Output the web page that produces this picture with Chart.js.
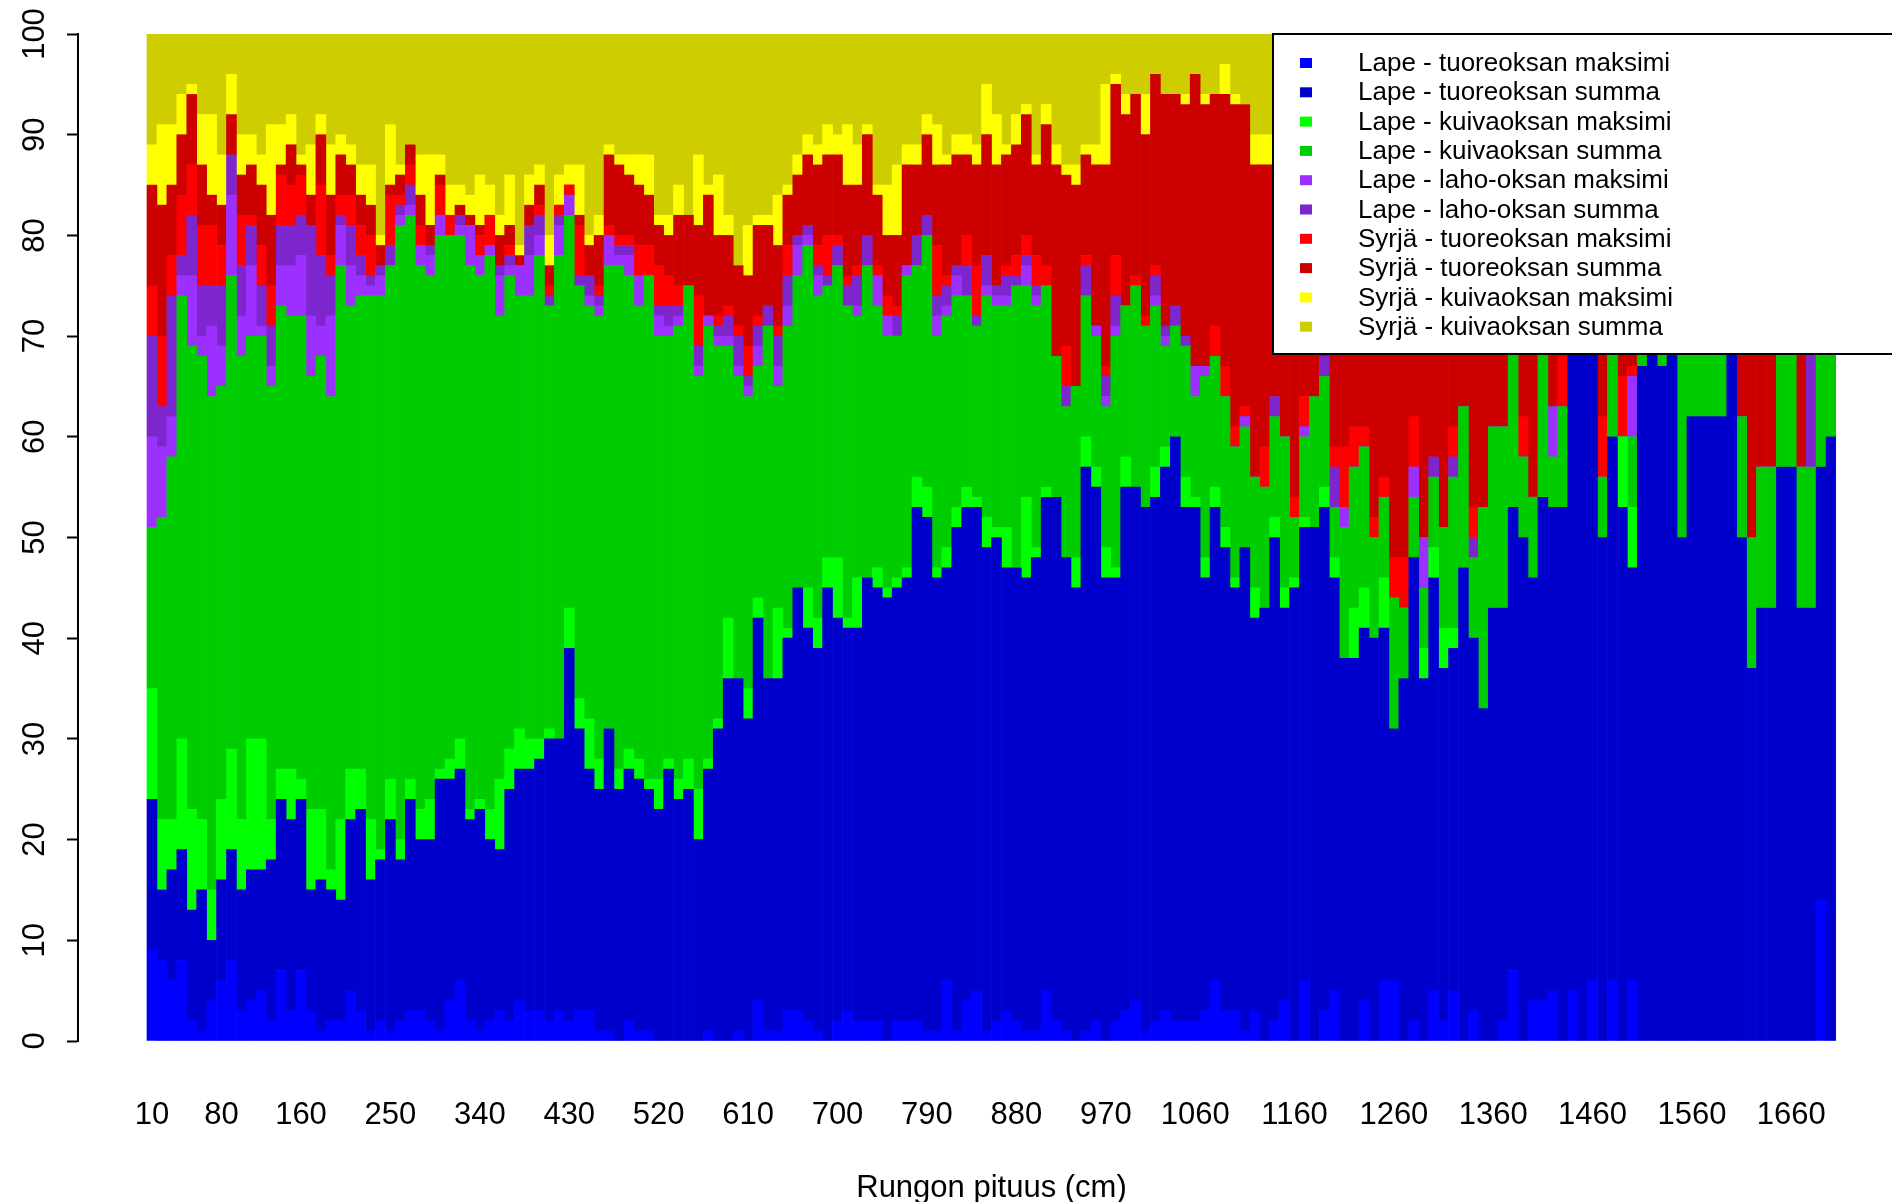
<!DOCTYPE html>
<html><head><meta charset="utf-8">
<script src="https://cdn.jsdelivr.net/npm/chart.js@4/dist/chart.umd.min.js"></script>
<style>html,body{margin:0;padding:0;background:#fff;}canvas{display:block;}</style>
</head><body>
<canvas id="c" width="1892" height="1202"></canvas>
<script>
// Categories: stem height classes (cm)
const heights = [
 10,20,30,40,50,60,70,80,90,100,110,120,130,140,150,160,170,180,190,200,
 210,220,230,240,250,260,270,280,290,300,310,320,330,340,350,360,370,380,390,400,
 410,420,430,440,450,460,470,480,490,500,510,520,530,540,550,560,570,580,590,600,
 610,620,630,640,650,660,670,680,690,700,710,720,730,740,750,760,770,780,790,800,
 810,820,830,840,850,860,870,880,890,900,910,920,930,940,950,960,970,980,990,1000,
 1010,1020,1030,1040,1050,1060,1070,1080,1090,1100,1110,1120,1130,1140,1150,1160,1170,1180,1190,1200,
 1210,1220,1230,1240,1250,1260,1270,1280,1290,1300,1310,1320,1330,1340,1350,1360,1370,1380,1390,1400,
 1410,1420,1430,1440,1450,1460,1470,1480,1490,1500,1510,1520,1530,1540,1550,1560,1570,1580,1590,1600,
 1610,1620,1630,1640,1650,1660,1670,1680,1690,1700];
const xTickLabels = [10,80,160,250,340,430,520,610,700,790,880,970,1060,1160,1260,1360,1460,1560,1660];
const xTitle = 'Rungon pituus (cm)';

const seriesNames = [
 'Lape - tuoreoksan maksimi','Lape - tuoreoksan summa',
 'Lape - kuivaoksan maksimi','Lape - kuivaoksan summa',
 'Lape - laho-oksan maksimi','Lape - laho-oksan summa',
 'Syrjä - tuoreoksan maksimi','Syrjä - tuoreoksan summa',
 'Syrjä - kuivaoksan maksimi','Syrjä - kuivaoksan summa'];
const seriesColors = ['#0000FF','#0000CD','#00FF00','#00CD00','#9B30FF','#7D26CD','#FF0000','#CD0000','#FFFF00','#CDCD00'];

const lapeTuoreMaks = [
 9,8,6,8,2,1,4,6,8,3, 4,5,2,7,3,7,3,1,2,2, 5,3,1,2,1,2,3,3,2,1, 4,6,2,1,2,3,2,4,3,3,
 2,3,2,3,3,1,1,0,2,1, 1,0,0,0,0,0,1,0,0,1, 0,4,1,1,3,3,2,1,0,2, 3,2,2,2,0,2,2,2,1,1,
 6,1,4,5,1,2,3,2,1,1, 5,2,1,0,1,2,0,2,3,4, 1,2,3,2,2,2,3,6,3,3, 1,3,0,2,4,0,6,0,3,5,
 0,0,4,0,6,6,0,2,0,5, 2,5,0,3,0,0,2,7,0,4, 4,5,0,5,0,6,0,6,0,6, 0,0,0,0,0,0,0,0,0,0,
 0,0,0,0,0,0,0,0,14,0];
const lapeTuoreSumma = [
 15,7,11,11,11,14,6,10,11,12, 13,12,16,17,19,17,12,15,13,12, 17,20,15,16,21,16,21,17,18,25, 22,21,20,22,18,16,23,23,24,25,
 28,27,37,28,24,24,30,25,25,25, 24,23,27,24,25,20,26,31,36,35, 32,38,35,35,37,42,39,38,45,40, 38,39,44,43,44,43,44,51,51,45,
 41,50,49,48,48,48,44,45,45,47, 49,52,47,45,56,53,46,44,52,51, 52,52,54,58,51,51,43,47,46,42, 48,39,43,48,39,45,45,51,50,41,
 38,38,37,40,35,25,36,46,36,41, 35,34,47,37,33,43,41,46,50,42, 50,48,53,95,100,94,50,54,53,41, 67,100,67,100,50,62,62,62,62,100,
 50,37,43,43,57,57,43,43,43,60];
const lapeKuivaMaks = [
 11,7,5,11,10,7,5,8,10,7, 13,13,4,3,5,2,8,7,2,8, 5,4,6,1,4,2,2,3,4,1, 2,3,1,1,3,7,4,4,3,2,
 1,0,4,3,5,3,0,2,2,2, 1,3,1,2,3,5,1,1,6,0, 3,2,0,7,1,0,4,3,3,6, 1,5,0,2,1,1,1,3,3,1,
 2,2,2,1,3,1,4,0,8,1, 1,0,0,3,3,2,3,1,3,0, 0,3,2,0,3,1,2,2,2,1, 0,3,0,2,2,1,1,0,2,2,
 0,5,4,0,5,0,0,0,3,3, 4,2,0,0,0,0,0,0,0,0, 0,0,0,0,0,0,0,0,7,6, 0,0,0,0,0,0,0,0,0,0,
 0,0,0,0,0,0,0,0,0,0];
const lapeKuivaSumma = [
 16,30,36,44,46,46,49,41,47,46, 40,40,43,46,45,46,43,45,47,55, 46,47,52,55,51,61,56,54,52,53, 52,50,54,52,55,46,47,43,44,48,
 42,48,39,41,41,44,46,50,47,45, 50,44,42,45,47,41,43,37,27,30, 29,23,35,22,30,31,34,32,27,29, 31,26,31,26,25,24,29,21,25,23,
 23,21,19,17,22,22,22,28,21,24, 20,14,15,17,14,13,14,23,15,20, 18,16,10,11,13,10,18,13,13,13, 12,11,12,10,15,6,8,13,11,5,
 13,14,14,10,8,13,7,6,6,7, 10,15,16,8,20,18,18,22,8,8, 21,5,10,0,0,0,6,15,0,7, 33,0,33,0,50,38,38,38,38,0,
 12,13,14,14,43,43,14,14,43,40];
const lapeLahoMaks = [
 9,7,4,2,7,2,7,4,8,4, 7,1,2,4,5,6,6,3,8,4, 4,2,1,2,0,1,1,2,2,2, 0,1,4,2,1,4,1,3,4,2,
 0,3,2,0,1,1,3,1,2,3, 0,2,1,1,0,1,1,1,1,1, 1,2,0,2,2,3,1,2,0,0, 0,1,0,3,2,0,1,0,0,2,
 1,2,0,0,1,1,1,0,2,1, 0,0,0,0,0,1,1,1,0,0, 0,1,1,0,0,3,1,0,0,0, 1,0,0,0,0,0,1,0,0,0,
 2,0,0,0,0,0,0,3,5,0, 0,0,0,0,0,0,0,0,0,0, 0,5,0,0,0,0,0,0,0,6, 0,0,0,0,0,0,0,0,0,0,
 0,0,0,0,0,0,0,0,0,0];
const lapeLahoSumma = [
 10,4,12,2,6,5,4,6,4,5, 4,4,4,4,4,4,9,7,4,1, 4,2,1,1,2,1,2,0,1,0, 0,1,0,0,0,1,1,0,3,2,
 1,1,0,1,2,1,0,1,1,0, 0,1,2,1,0,2,0,1,2,3, 1,2,2,3,3,1,1,1,1,2, 2,3,3,0,0,2,0,3,2,2,
 2,1,3,1,3,1,2,1,1,1, 0,0,2,0,3,0,2,3,0,0, 0,2,1,2,1,0,0,0,0,0, 0,0,0,2,0,0,0,0,2,4,
 0,0,0,0,0,0,0,0,0,2, 0,2,0,2,0,0,0,0,0,0, 0,0,0,0,0,0,0,0,0,0, 0,0,0,0,0,0,0,0,0,0,
 0,0,0,0,0,0,0,38,0,0];
const syrjaTuoreMaks = [
 5,7,4,6,5,6,6,4,0,5, 1,4,4,5,4,4,0,7,2,2, 3,3,4,0,5,1,2,2,0,3, 2,0,0,2,3,0,1,0,0,1,
 1,1,1,5,0,1,1,1,1,3, 3,4,3,2,0,5,0,1,1,1, 3,1,0,1,3,0,0,2,4,1, 1,1,0,1,2,1,0,0,0,5,
 1,0,3,5,0,0,1,2,2,3, 2,0,4,0,1,0,1,4,0,1, 1,1,0,0,0,0,0,3,3,2, 1,0,4,0,0,2,3,0,0,2,
 6,4,2,2,2,4,5,5,0,0, 0,3,0,3,0,0,0,0,4,0, 0,0,5,0,0,0,6,0,6,1, 0,0,0,0,0,0,0,0,0,0,
 0,0,0,0,0,0,0,0,0,0];
const syrjaTuoreSumma = [
 10,13,7,6,7,6,3,4,4,4, 5,6,7,1,4,1,3,5,6,4, 3,3,3,2,1,2,2,3,2,1, 0,1,1,1,0,3,2,1,2,2,
 2,0,0,1,3,5,7,7,6,6, 5,4,4,7,7,7,12,8,7,6, 7,9,8,8,5,6,7,8,8,8, 9,8,10,7,6,7,10,7,8,8,
 11,11,8,10,12,12,11,11,12,9, 14,19,17,20,10,16,20,17,19,18, 18,19,23,21,23,29,26,23,27,32, 30,31,28,23,33,39,29,29,25,34,
 34,32,32,41,37,45,45,31,43,35, 42,32,30,40,40,32,32,18,31,39, 18,30,25,0,0,0,31,18,27,26, 0,0,0,0,0,0,0,0,0,0,
 31,43,36,36,0,0,36,0,0,0];
const syrjaKuivaMaks = [
 4,8,6,4,1,5,8,5,4,4, 3,3,9,4,3,1,5,2,5,2, 2,3,4,1,6,1,0,4,7,2, 3,2,2,5,3,2,5,1,3,2,
 3,3,2,5,1,2,1,1,2,3, 4,1,2,3,0,7,1,6,2,0, 5,1,1,5,1,2,2,2,3,2, 6,4,1,1,5,7,2,2,2,4,
 1,2,2,2,5,5,1,3,1,1, 2,2,1,2,1,2,8,1,2,0, 4,0,0,0,1,0,1,0,3,1, 0,3,3,3,2,2,2,2,2,2,
 2,2,2,2,2,2,2,2,2,2, 2,2,2,2,2,2,2,2,2,2, 2,2,2,0,0,0,2,2,2,2, 0,0,0,0,0,0,0,0,0,0,
 2,2,2,2,0,0,2,0,0,0];
const syrjaKuivaSumma = [
 11,9,9,6,5,8,8,12,4,10, 10,12,9,9,8,12,11,8,11,10, 11,13,13,20,9,13,11,12,12,12, 15,15,16,14,15,18,14,21,14,13,
 20,14,13,13,20,18,11,12,12,12, 12,18,18,15,18,12,15,14,18,23, 19,18,18,16,15,12,10,11,9,10, 9,11,9,15,15,13,11,11,8,9,
 12,10,10,11,5,8,11,8,7,12, 7,11,13,13,11,11,5,4,6,6, 6,4,6,6,6,4,6,6,3,6, 7,10,10,10,5,5,5,5,5,5,
 5,5,5,5,5,5,5,5,5,5, 5,5,5,5,5,5,5,5,5,5, 5,5,5,0,0,0,5,5,5,5, 0,0,0,0,0,0,0,0,0,0,
 5,5,5,5,0,0,5,5,0,0];

const seriesData = [lapeTuoreMaks, lapeTuoreSumma, lapeKuivaMaks, lapeKuivaSumma, lapeLahoMaks,
  lapeLahoSumma, syrjaTuoreMaks, syrjaTuoreSumma, syrjaKuivaMaks, syrjaKuivaSumma];

const FONT = "'Liberation Sans', Arial, Helvetica, sans-serif";

const boxLegend = {
  id: 'boxLegend',
  afterDraw(chart) {
    const ctx = chart.ctx;
    const top = chart.chartArea.top;
    const left = 1273, bottom = 354, right = 1900;
    ctx.save();
    ctx.fillStyle = '#ffffff';
    ctx.fillRect(left, top, right - left, bottom - top);
    ctx.strokeStyle = '#000000';
    ctx.lineWidth = 2;
    ctx.strokeRect(left, top, right - left, bottom - top);
    ctx.font = '26px ' + FONT;
    ctx.textBaseline = 'middle';
    ctx.textAlign = 'left';
    seriesNames.forEach((name, i) => {
      const y = top + 29 + i * 29.3;
      ctx.fillStyle = seriesColors[i];
      ctx.fillRect(1300, y - 5, 12, 10);
      ctx.fillStyle = '#000000';
      ctx.fillText(name, 1358, y + 1);
    });
    // x-axis title, centred under the bars as in the original
    const xs = chart.scales.x;
    const cx = (xs.getPixelForValue(heights[0]) + xs.getPixelForValue(heights[heights.length - 1])) / 2;
    ctx.font = '31px ' + FONT;
    ctx.textAlign = 'center';
    ctx.fillStyle = '#000000';
    ctx.fillText(xTitle, cx, 1188);
    ctx.restore();
  }
};

const datasets = seriesNames.map((name, i) => ({
  label: name,
  data: seriesData[i],
  backgroundColor: seriesColors[i],
  borderWidth: 0,
  barPercentage: 1,
  categoryPercentage: 1,
  stack: 's'
}));

new Chart(document.getElementById('c').getContext('2d'), {
  type: 'bar',
  data: { labels: heights, datasets },
  options: {
    responsive: false,
    animation: false,
    devicePixelRatio: 1,
    events: [],
    layout: { padding: { left: 0, right: 56, top: 34, bottom: 0 } },
    plugins: { legend: { display: false }, tooltip: { enabled: false } },
    scales: {
      x: {
        type: 'linear', min: -64.45, max: 1705, offset: false, bounds: 'data', stacked: true,
        grid: { display: false, drawTicks: false },
        border: { display: false },
        afterBuildTicks: s => { s.ticks = xTickLabels.map(v => ({ value: v })); },
        ticks: { autoSkip: false, maxRotation: 0, minRotation: 0, padding: 56, color: '#000',
                 font: { family: FONT, size: 31 }, callback: v => String(v) },
        title: { display: false },
        afterFit: s => { s.height = 161; }
      },
      y: {
        type: 'linear', min: 0, max: 100, stacked: true,
        grid: { display: true, drawOnChartArea: false, drawTicks: true, tickLength: 11, tickColor: '#000', tickWidth: 2 },
        border: { display: true, color: '#000', width: 2 },
        ticks: { stepSize: 10, minRotation: 90, maxRotation: 90, crossAlign: 'center', padding: 6,
                 color: '#000', font: { family: FONT, size: 31 } },
        afterFit: s => { s.width = 78; }
      }
    }
  },
  plugins: [boxLegend]
});
</script>
</body></html>
